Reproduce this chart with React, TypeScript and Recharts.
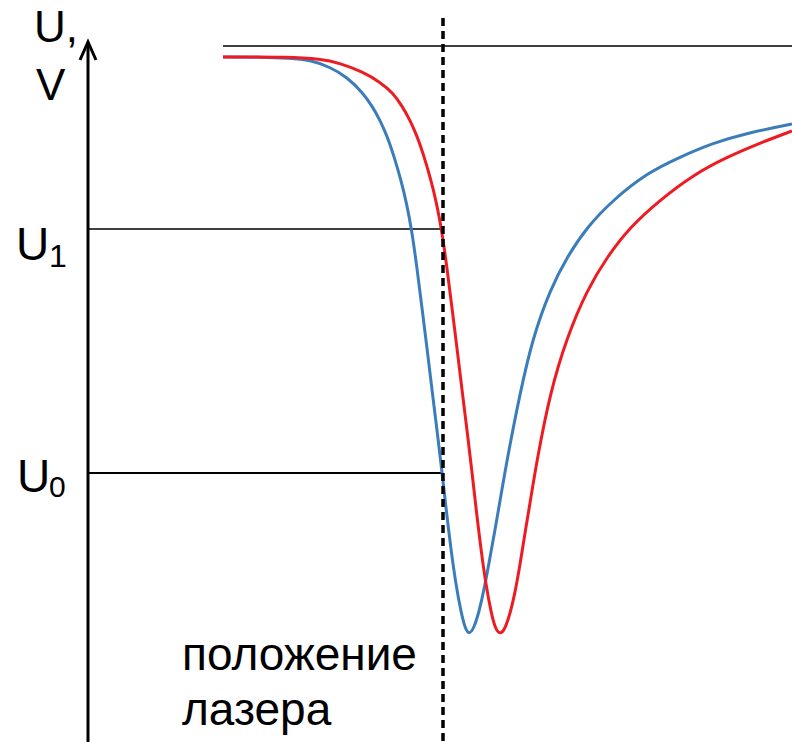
import React from "react";
import { ComposedChart, Line, XAxis, YAxis, ReferenceLine } from "recharts";

// Position along the scan (arbitrary units) and signal U (arbitrary volts)
const blueX = [2.23, 2.6, 2.9, 3.1, 3.3, 3.47, 3.63, 3.72, 3.8, 3.87, 3.93, 4.01, 4.07, 4.12, 4.17, 4.22, 4.27, 4.32, 4.37, 4.42, 4.46, 4.51, 4.56, 4.61, 4.65, 4.69, 4.74, 4.79, 4.84, 4.89, 4.95, 5.01, 5.07, 5.2, 5.33, 5.5, 5.67, 5.87, 6.13, 6.47, 6.8, 7.13, 7.47, 7.92];
const blueU = [6.85, 6.85, 6.84, 6.82, 6.75, 6.65, 6.49, 6.36, 6.22, 6.06, 5.89, 5.62, 5.37, 5.1, 4.74, 4.34, 3.94, 3.52, 3.12, 2.7, 2.34, 1.92, 1.57, 1.3, 1.14, 1.07, 1.14, 1.3, 1.52, 1.79, 2.12, 2.47, 2.82, 3.49, 4.05, 4.52, 4.85, 5.15, 5.42, 5.69, 5.85, 5.99, 6.09, 6.18];

const redX = [2.23, 2.9, 3.2, 3.4, 3.63, 3.8, 3.93, 4.02, 4.1, 4.17, 4.23, 4.31, 4.37, 4.42, 4.47, 4.52, 4.57, 4.62, 4.67, 4.72, 4.76, 4.81, 4.86, 4.91, 4.95, 5.0, 5.05, 5.1, 5.15, 5.2, 5.25, 5.31, 5.37, 5.5, 5.67, 5.87, 6.07, 6.3, 6.6, 6.93, 7.27, 7.6, 7.92];
const redU = [6.85, 6.85, 6.83, 6.79, 6.7, 6.6, 6.49, 6.36, 6.22, 6.06, 5.89, 5.62, 5.37, 5.1, 4.74, 4.34, 3.94, 3.52, 3.12, 2.7, 2.34, 1.92, 1.57, 1.3, 1.14, 1.07, 1.13, 1.28, 1.49, 1.77, 2.09, 2.45, 2.82, 3.49, 4.05, 4.52, 4.85, 5.15, 5.42, 5.67, 5.85, 5.99, 6.11];

const X_DOMAIN: [number, number] = [0, 7.92];
const U_DOMAIN: [number, number] = [0, 7.42];

const U_TOP = 6.96;
const U1 = 5.13;
const U0 = 2.69;
const LASER_X = 4.43;
const AXIS_X = 0.88;
const AXIS_TOP = 7.0;
const DASH_TOP = 7.24;
const TOP_LINE_START = 2.23;

const blueData = blueX.map((x, i) => ({ x, u: blueU[i] }));
const redData = redX.map((x, i) => ({ x, u: redU[i] }));

const BLUE = "#3B7DBA";
const RED = "#EE1C22";
const FONT = "'Liberation Sans', Arial, sans-serif";

const AxisArrow = (props: any) => {
  const { x1, y1, x2, y2 } = props;
  const topY = Math.min(y1, y2);
  const botY = Math.max(y1, y2);
  const x = x1;
  return (
    <g>
      <line x1={x} y1={botY} x2={x} y2={topY + 2} stroke="#000" strokeWidth={3} />
      <polyline
        points={`${x - 8},${topY + 18} ${x},${topY} ${x + 8},${topY + 18}`}
        fill="none"
        stroke="#000"
        strokeWidth={3}
        strokeLinejoin="miter"
      />
    </g>
  );
};

export default function App() {
  return (
    <div style={{ position: "absolute", left: 0, top: 0, width: 792, height: 742, background: "#fff" }}>
      <ComposedChart width={792} height={742} margin={{ top: 0, right: 0, bottom: 0, left: 0 }}>
        <XAxis type="number" dataKey="x" domain={X_DOMAIN} hide allowDataOverflow />
        <YAxis type="number" domain={U_DOMAIN} hide allowDataOverflow />
        <ReferenceLine
          segment={[{ x: TOP_LINE_START, y: U_TOP }, { x: X_DOMAIN[1], y: U_TOP }]}
          stroke="#000"
          strokeWidth={1.5}
          ifOverflow="visible"
        />
        <ReferenceLine
          segment={[{ x: AXIS_X, y: U1 }, { x: LASER_X, y: U1 }]}
          stroke="#000"
          strokeWidth={1.5}
          ifOverflow="visible"
        />
        <ReferenceLine
          segment={[{ x: AXIS_X, y: U0 }, { x: LASER_X, y: U0 }]}
          stroke="#000"
          strokeWidth={2}
          ifOverflow="visible"
        />
        <Line data={blueData} dataKey="u" type="basis" stroke={BLUE} strokeWidth={3} dot={false} activeDot={false} isAnimationActive={false} />
        <Line data={redData} dataKey="u" type="basis" stroke={RED} strokeWidth={3} dot={false} activeDot={false} isAnimationActive={false} />
        <ReferenceLine
          segment={[{ x: LASER_X, y: DASH_TOP }, { x: LASER_X, y: U_DOMAIN[0] }]}
          stroke="#000"
          strokeWidth={3.5}
          strokeDasharray="8 5"
          ifOverflow="visible"
        />
        <ReferenceLine
          segment={[{ x: AXIS_X, y: AXIS_TOP }, { x: AXIS_X, y: U_DOMAIN[0] }]}
          shape={AxisArrow}
          ifOverflow="visible"
        />
      </ComposedChart>
      <svg
        width={792}
        height={742}
        style={{ position: "absolute", left: 0, top: 0, pointerEvents: "none" }}
        fontFamily={FONT}
      >
        <text x={34} y={42} fontSize={44} fill="#000">U,</text>
        <text x={36} y={100} fontSize={44} fill="#000">V</text>
        <text x={16} y={260} fontSize={46} fill="#000">U</text>
        <text x={49} y={267} fontSize={32} fill="#000">1</text>
        <text x={17} y={492} fontSize={46} fill="#000">U</text>
        <text x={49} y={497} fontSize={30} fill="#000">0</text>
        <text x={182} y={670} fontSize={46} fill="#000">положение</text>
        <text x={182} y={725} fontSize={46} fill="#000">лазера</text>
      </svg>
    </div>
  );
}
